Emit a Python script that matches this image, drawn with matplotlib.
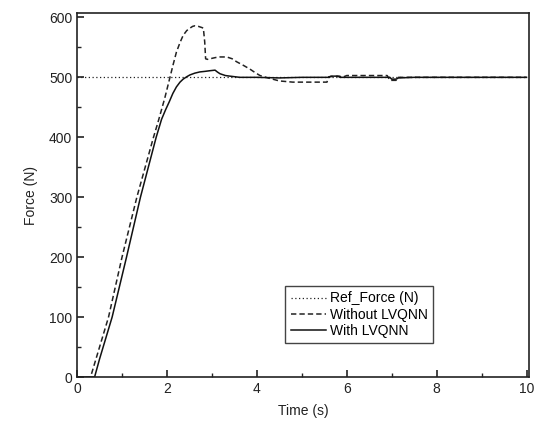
"""
Force tracking response: reference vs. with/without LVQNN
"""

import matplotlib
matplotlib.use("Agg")
import matplotlib.pyplot as plt
from matplotlib.ticker import MultipleLocator

plt.rcParams["font.family"] = ["Liberation Sans", "DejaVu Sans"]

# -------------------------------------------------------------------
# Data
# -------------------------------------------------------------------
ref_t = [0, 10]
ref_f = [500, 500]

without_t = [0, 0.3, 0.5, 0.7, 1.0, 1.33, 1.7, 1.8, 1.95, 2.05, 2.14, 2.21,
             2.29, 2.36, 2.44, 2.51, 2.57, 2.62, 2.7, 2.78, 2.81, 2.84, 2.86,
             2.9, 2.96, 3.08, 3.18, 3.33, 3.45, 3.55, 3.7, 3.84, 3.96, 4.07,
             4.2, 4.35, 4.5, 4.8, 5.2, 5.56, 5.6, 5.84, 5.9, 6.0, 6.5, 6.9,
             6.96, 7.1, 7.15, 7.5, 8.0, 9.0, 10.0]
without_f = [0, 0, 50, 100, 200, 300, 400, 425, 465, 495, 522, 542,
             558, 570, 578, 582, 585, 586, 585, 583, 582, 559, 531,
             530, 531, 533, 534, 534, 531, 526, 520, 514, 508, 503,
             500, 497, 494, 492, 492, 492, 501, 502, 500, 503, 503, 503,
             495, 495, 500, 500, 500, 500, 500]

with_t = [0, 0.39, 0.5, 0.78, 1.1, 1.41, 1.76, 1.88, 1.97, 2.05, 2.13, 2.21,
          2.29, 2.36, 2.44, 2.51, 2.62, 2.73, 2.85, 2.95, 3.07, 3.12, 3.18,
          3.3, 3.4, 3.62, 4.0, 4.5, 5.0, 5.6, 5.65, 5.8, 5.85, 6.5, 6.96,
          7.0, 7.1, 7.15, 7.5, 8.0, 9.0, 10.0]
with_f = [0, 0, 30, 100, 200, 300, 400, 430, 446, 459, 473, 484,
          492, 497, 501, 504, 507, 509, 510, 511, 512, 509, 506,
          503, 502, 500, 500, 499, 500, 500, 502, 502, 500, 500, 500,
          497, 497, 499, 500, 500, 500, 500]

# -------------------------------------------------------------------
# Plot
# -------------------------------------------------------------------
fig = plt.figure(figsize=(5.39, 4.26), dpi=100)
ax = fig.add_axes([0.143, 0.115, 0.838, 0.854])

ax.plot(ref_t, ref_f, color="#222222", linestyle=(0, (1, 2)), linewidth=0.9,
        label="Ref_Force (N)")
ax.plot(without_t, without_f, color="#222222", linestyle=(0, (3.5, 2)),
        linewidth=1.1, label="Without LVQNN")
ax.plot(with_t, with_f, color="#111111", linestyle="-", linewidth=1.1,
        label="With LVQNN")

ax.set_xlim(0, 10.05)
ax.set_ylim(0, 607)
ax.xaxis.set_major_locator(MultipleLocator(2))
ax.xaxis.set_minor_locator(MultipleLocator(1))
ax.yaxis.set_major_locator(MultipleLocator(100))
ax.yaxis.set_minor_locator(MultipleLocator(50))
ax.tick_params(which="both", direction="in", top=False, right=False,
               labelsize=10, colors="#222222")
ax.tick_params(which="major", length=5, width=1.2)
ax.tick_params(which="minor", length=3, width=1.0)
for s in ax.spines.values():
    s.set_linewidth(1.2)
    s.set_color("#222222")

ax.set_xlabel("Time (s)", fontsize=10, color="#222222", labelpad=6)
ax.set_ylabel("Force (N)", fontsize=10, color="#222222", labelpad=8)

leg = ax.legend(loc="lower left", bbox_to_anchor=(0.446, 0.074),
                fontsize=10, fancybox=False, framealpha=1,
                edgecolor="#444444", handlelength=2.5, handletextpad=0.3,
                borderpad=0.4, labelspacing=0.15)
leg.get_frame().set_linewidth(1.0)

fig.savefig("out.png", dpi=100)
